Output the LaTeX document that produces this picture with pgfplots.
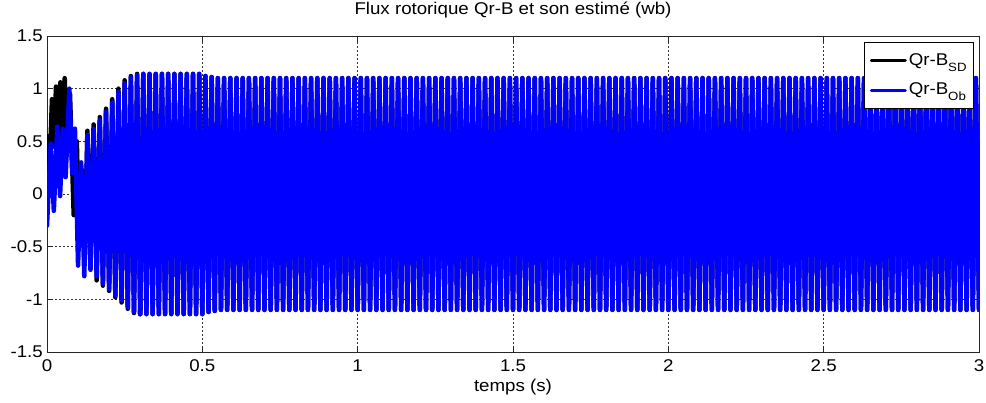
\documentclass[border=0pt]{standalone}
\usepackage{fontspec}
\setmainfont{Liberation Sans}[FakeStretch=1.1]
\usepackage{pgfplots}
\usepackage{pgfplotstable}
\pgfplotsset{compat=1.18}

% start-up transient of the measured flux (SD)
\pgfplotstableread{
t y
0.000 0.00
0.005 0.55
0.009 0.30
0.016 0.90
0.022 0.45
0.029 1.02
0.035 0.50
0.043 1.06
0.049 0.55
0.057 1.10
0.065 0.40
0.074 0.95
0.086 -0.20
0.096 0.50
0.104 -0.50
0.112 0.23
0.122 -0.62
0.130 0.60
0.140 -0.50
0.150 0.66
0.160 -0.82
0.170 0.73
0.180 -0.87
0.190 0.81
0.200 -0.92
0.210 0.90
0.220 -0.98
0.230 1.00
0.240 -1.03
0.250 1.08
0.260 -1.09
0.270 1.12
0.280 -1.13
0.290 1.14
0.300 -1.14
}\sdstart

% start-up transient of the observer estimate (Ob)
\pgfplotstableread{
t y
0.000 -0.30
0.012 0.48
0.022 -0.16
0.033 0.64
0.042 -0.02
0.051 0.62
0.060 0.16
0.072 1.00
0.081 0.20
0.090 0.62
0.100 -0.68
0.110 0.30
0.120 -0.78
0.130 0.56
0.140 -0.72
0.150 0.62
0.160 -0.78
0.170 0.70
0.180 -0.85
0.190 0.78
0.200 -0.90
0.210 0.87
0.220 -0.96
0.230 0.97
0.240 -1.01
0.250 1.05
0.260 -1.07
0.270 1.11
0.280 -1.12
0.290 1.13
0.300 -1.14
}\obstart

% steady state (both signals coincide): peaks and troughs of the 50 Hz flux
\pgfplotstableread[row sep=\\]{
t y\\
0.30 -1.14\\ 0.31 1.14\\ 0.32 -1.14\\ 0.33 1.14\\ 0.34 -1.14\\ 0.35 1.14\\ 0.36 -1.14\\ 0.37 1.14\\ 0.38 -1.14\\ 0.39 1.14\\
0.40 -1.14\\ 0.41 1.14\\ 0.42 -1.14\\ 0.43 1.14\\ 0.44 -1.14\\ 0.45 1.14\\ 0.46 -1.14\\ 0.47 1.14\\ 0.48 -1.14\\ 0.49 1.14\\
0.50 -1.14\\ 0.51 1.12\\ 0.52 -1.12\\ 0.53 1.11\\ 0.54 -1.11\\ 0.55 1.10\\ 0.56 -1.10\\ 0.57 1.10\\ 0.58 -1.10\\ 0.59 1.10\\
0.60 -1.10\\ 0.61 1.10\\ 0.62 -1.10\\ 0.63 1.10\\ 0.64 -1.10\\ 0.65 1.10\\ 0.66 -1.10\\ 0.67 1.10\\ 0.68 -1.10\\ 0.69 1.10\\
0.70 -1.10\\ 0.71 1.10\\ 0.72 -1.10\\ 0.73 1.10\\ 0.74 -1.10\\ 0.75 1.10\\ 0.76 -1.10\\ 0.77 1.10\\ 0.78 -1.10\\ 0.79 1.10\\
0.80 -1.10\\ 0.81 1.10\\ 0.82 -1.10\\ 0.83 1.10\\ 0.84 -1.10\\ 0.85 1.10\\ 0.86 -1.10\\ 0.87 1.10\\ 0.88 -1.10\\ 0.89 1.10\\
0.90 -1.10\\ 0.91 1.10\\ 0.92 -1.10\\ 0.93 1.10\\ 0.94 -1.10\\ 0.95 1.10\\ 0.96 -1.10\\ 0.97 1.10\\ 0.98 -1.10\\ 0.99 1.10\\
1.00 -1.10\\ 1.01 1.10\\ 1.02 -1.10\\ 1.03 1.10\\ 1.04 -1.10\\ 1.05 1.10\\ 1.06 -1.10\\ 1.07 1.10\\ 1.08 -1.10\\ 1.09 1.10\\
1.10 -1.10\\ 1.11 1.10\\ 1.12 -1.10\\ 1.13 1.10\\ 1.14 -1.10\\ 1.15 1.10\\ 1.16 -1.10\\ 1.17 1.10\\ 1.18 -1.10\\ 1.19 1.10\\
1.20 -1.10\\ 1.21 1.10\\ 1.22 -1.10\\ 1.23 1.10\\ 1.24 -1.10\\ 1.25 1.10\\ 1.26 -1.10\\ 1.27 1.10\\ 1.28 -1.10\\ 1.29 1.10\\
1.30 -1.10\\ 1.31 1.10\\ 1.32 -1.10\\ 1.33 1.10\\ 1.34 -1.10\\ 1.35 1.10\\ 1.36 -1.10\\ 1.37 1.10\\ 1.38 -1.10\\ 1.39 1.10\\
1.40 -1.10\\ 1.41 1.10\\ 1.42 -1.10\\ 1.43 1.10\\ 1.44 -1.10\\ 1.45 1.10\\ 1.46 -1.10\\ 1.47 1.10\\ 1.48 -1.10\\ 1.49 1.10\\
1.50 -1.10\\ 1.51 1.10\\ 1.52 -1.10\\ 1.53 1.10\\ 1.54 -1.10\\ 1.55 1.10\\ 1.56 -1.10\\ 1.57 1.10\\ 1.58 -1.10\\ 1.59 1.10\\
1.60 -1.10\\ 1.61 1.10\\ 1.62 -1.10\\ 1.63 1.10\\ 1.64 -1.10\\ 1.65 1.10\\ 1.66 -1.10\\ 1.67 1.10\\ 1.68 -1.10\\ 1.69 1.10\\
1.70 -1.10\\ 1.71 1.10\\ 1.72 -1.10\\ 1.73 1.10\\ 1.74 -1.10\\ 1.75 1.10\\ 1.76 -1.10\\ 1.77 1.10\\ 1.78 -1.10\\ 1.79 1.10\\
1.80 -1.10\\ 1.81 1.10\\ 1.82 -1.10\\ 1.83 1.10\\ 1.84 -1.10\\ 1.85 1.10\\ 1.86 -1.10\\ 1.87 1.10\\ 1.88 -1.10\\ 1.89 1.10\\
1.90 -1.10\\ 1.91 1.10\\ 1.92 -1.10\\ 1.93 1.10\\ 1.94 -1.10\\ 1.95 1.10\\ 1.96 -1.10\\ 1.97 1.10\\ 1.98 -1.10\\ 1.99 1.10\\
2.00 -1.10\\ 2.01 1.10\\ 2.02 -1.10\\ 2.03 1.10\\ 2.04 -1.10\\ 2.05 1.10\\ 2.06 -1.10\\ 2.07 1.10\\ 2.08 -1.10\\ 2.09 1.10\\
2.10 -1.10\\ 2.11 1.10\\ 2.12 -1.10\\ 2.13 1.10\\ 2.14 -1.10\\ 2.15 1.10\\ 2.16 -1.10\\ 2.17 1.10\\ 2.18 -1.10\\ 2.19 1.10\\
2.20 -1.10\\ 2.21 1.10\\ 2.22 -1.10\\ 2.23 1.10\\ 2.24 -1.10\\ 2.25 1.10\\ 2.26 -1.10\\ 2.27 1.10\\ 2.28 -1.10\\ 2.29 1.10\\
2.30 -1.10\\ 2.31 1.10\\ 2.32 -1.10\\ 2.33 1.10\\ 2.34 -1.10\\ 2.35 1.10\\ 2.36 -1.10\\ 2.37 1.10\\ 2.38 -1.10\\ 2.39 1.10\\
2.40 -1.10\\ 2.41 1.10\\ 2.42 -1.10\\ 2.43 1.10\\ 2.44 -1.10\\ 2.45 1.10\\ 2.46 -1.10\\ 2.47 1.10\\ 2.48 -1.10\\ 2.49 1.10\\
2.50 -1.10\\ 2.51 1.10\\ 2.52 -1.10\\ 2.53 1.10\\ 2.54 -1.10\\ 2.55 1.10\\ 2.56 -1.10\\ 2.57 1.10\\ 2.58 -1.10\\ 2.59 1.10\\
2.60 -1.10\\ 2.61 1.10\\ 2.62 -1.10\\ 2.63 1.10\\ 2.64 -1.10\\ 2.65 1.10\\ 2.66 -1.10\\ 2.67 1.10\\ 2.68 -1.10\\ 2.69 1.10\\
2.70 -1.10\\ 2.71 1.10\\ 2.72 -1.10\\ 2.73 1.10\\ 2.74 -1.10\\ 2.75 1.10\\ 2.76 -1.10\\ 2.77 1.10\\ 2.78 -1.10\\ 2.79 1.10\\
2.80 -1.10\\ 2.81 1.10\\ 2.82 -1.10\\ 2.83 1.10\\ 2.84 -1.10\\ 2.85 1.10\\ 2.86 -1.10\\ 2.87 1.10\\ 2.88 -1.10\\ 2.89 1.10\\
2.90 -1.10\\ 2.91 1.10\\ 2.92 -1.10\\ 2.93 1.10\\ 2.94 -1.10\\ 2.95 1.10\\ 2.96 -1.10\\ 2.97 1.10\\ 2.98 -1.10\\ 2.99 1.10\\
3.00 -1.10\\
}\steady

\newcommand{\sub}[1]{\raisebox{-6bp}{\fontsize{12bp}{12bp}\selectfont #1}}

\begin{document}
\fontsize{17bp}{20bp}\selectfont
\begin{tikzpicture}
\path[use as bounding box] (-47bp,-51bp) rectangle (939bp,352bp);
\begin{axis}[
  scale only axis,
  width=932bp, height=316bp,
  at={(0,0)}, anchor=south west,
  xmin=0, xmax=3, ymin=-1.5, ymax=1.5,
  xtick={0,0.5,1,1.5,2,2.5,3},
  ytick={-1.5,-1,-0.5,0,0.5,1,1.5},
  /pgf/number format/assume math mode=true,
  tick align=inside,
  xtick pos=both, ytick pos=both,
  xticklabel pos=lower, yticklabel pos=left,
  major tick length=6bp,
  every tick/.style={black!85, line width=0.6bp},
  axis line style={black!85, line width=0.8bp},
  grid=major,
  major grid style={black!80, line width=0.6bp, dash pattern=on 1.5bp off 2.5bp},
  xticklabel style={anchor=base, inner sep=0pt, yshift=-19bp},
  yticklabel style={anchor=east, inner sep=0pt, xshift=-4bp},
  title={Flux rotorique Qr-B et son estimé (wb)},
  title style={at={(axis description cs:0.5,1)}, anchor=base, inner sep=0pt, yshift=16bp},
  xlabel={temps (s)},
  xlabel style={at={(axis description cs:0.5,0)}, anchor=base, inner sep=0pt, yshift=-39bp},
  legend style={at={(axis description cs:0.9946,0.981)}, anchor=north east,
    draw=black, line width=0.8bp, fill=white,
    inner xsep=5bp, inner ysep=9bp, row sep=11bp,
    cells={anchor=west}},
  legend image code/.code={\draw[#1, line width=3bp] (0bp,0bp) -- (34bp,0bp);},
  legend entries={Qr-B\sub{SD}, Qr-B\sub{Ob}},
  every axis plot/.append style={line width=4.5bp, line join=round, line cap=round},
]
\addplot[black] table[x=t, y=y] {\sdstart};
\addplot[black, forget plot] table[x=t, y=y] {\steady};
\addplot[blue] table[x=t, y=y] {\obstart};
\addplot[blue, forget plot] table[x=t, y=y] {\steady};
\end{axis}
\end{tikzpicture}
\end{document}
